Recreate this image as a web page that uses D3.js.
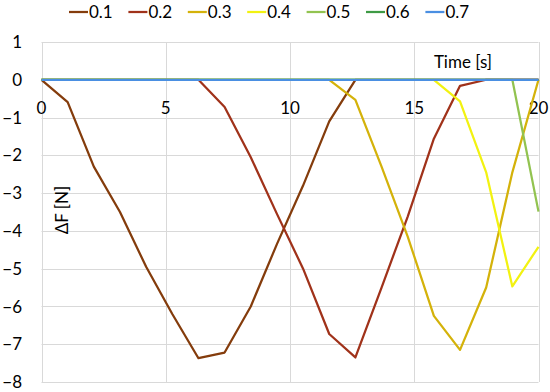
<!DOCTYPE html>
<html><head><meta charset="utf-8">
<script src="https://cdn.jsdelivr.net/npm/d3@7"></script>
<style>body{margin:0;background:#fff}svg{display:block}text{font-family:Lato,"Liberation Sans",sans-serif;fill:#000}</style>
</head><body><svg id="c" width="550" height="392"></svg>
<script>
const seriesNames = ["0.1","0.2","0.3","0.4","0.5","0.6","0.7"];
const seriesColors = ["#843C0C","#A0321A","#D4B20A","#F2F211","#92C350","#3E9A45","#4A8FE2"];
// sample times: 20 samples from 0 to 20 s
const times = d3.range(20).map(i => i * 20 / 19);
const s01 = [0,-0.59,-2.3,-3.5,-4.95,-6.2,-7.37,-7.22,-6.0,-4.35,-2.8,-1.1,0,0,0,0,0,0,0,0];
const s02 = [0,0,0,0,0,0,0,-0.72,-2.05,-3.55,-5.0,-6.73,-7.35,-5.5,-3.62,-1.56,-0.16,0,0,0];
const s03 = [0,0,0,0,0,0,0,0,0,0,0,0,-0.53,-2.3,-4.15,-6.25,-7.15,-5.5,-2.45,0];
const s04 = [0,0,0,0,0,0,0,0,0,0,0,0,0,0,0,0,-0.57,-2.45,-5.47,-4.42];
const s05 = [0,0,0,0,0,0,0,0,0,0,0,0,0,0,0,0,0,0,0,-3.49];
const s06 = [0,0,0,0,0,0,0,0,0,0,0,0,0,0,0,0,0,0,0,0];
const s07 = [0,0,0,0,0,0,0,0,0,0,0,0,0,0,0,0,0,0,0,0];
const allSeries = [s01,s02,s03,s04,s05,s06,s07];
const xTicks = [0,5,10,15,20];
const yTicks = [1,0,-1,-2,-3,-4,-5,-6,-7,-8];

const svg = d3.select("#c");
const x = d3.scaleLinear().domain([0,20]).range([41.5,538.5]);
const y = d3.scaleLinear().domain([-8,1]).range([382,42]);

// gridlines
const g = svg.append("g");
g.selectAll("line.h").data(yTicks).join("line")
  .attr("x1",x(0)).attr("x2",x(20)).attr("y1",d=>Math.round(y(d))+0.5).attr("y2",d=>Math.round(y(d))+0.5)
  .attr("stroke","#d9d9d9").attr("stroke-width",1);
g.selectAll("line.v").data(xTicks).join("line")
  .attr("y1",y(1)).attr("y2",y(-8)).attr("x1",d=>Math.round(x(d))+0.5).attr("x2",d=>Math.round(x(d))+0.5)
  .attr("stroke","#d9d9d9").attr("stroke-width",1);

// y tick labels
svg.append("g").selectAll("text").data(yTicks).join("text")
  .attr("x",22).attr("y",d=>y(d)).attr("dy","0.36em").attr("text-anchor","end")
  .attr("font-size",17).text(d=>d<0?"\u2212"+Math.abs(d):d);
// x tick labels (below zero line)
svg.append("g").selectAll("text").data(xTicks).join("text")
  .attr("x",d=>x(d)).attr("y",113.5).attr("text-anchor","middle")
  .attr("font-size",17).text(d=>d);

// lines
const line = d3.line().x((d,i)=>x(times[i])).y(d=>y(d));
svg.append("g").selectAll("path").data(allSeries).join("path")
  .attr("d",d=>line(d)).attr("fill","none")
  .attr("stroke",(d,i)=>seriesColors[i]).attr("stroke-width",2.25).attr("stroke-linejoin","round");

// axis titles
svg.append("text").attr("x",492).attr("y",68).attr("text-anchor","end").attr("font-size",17).text("Time [s]");
svg.append("text").attr("transform","translate(68,210) rotate(-90)").attr("text-anchor","middle")
  .attr("font-size",17).text("\u0394F [N]");

// legend
const lg = svg.append("g").selectAll("g").data(seriesNames).join("g")
  .attr("transform",(d,i)=>`translate(${69+i*59.4},0)`);
lg.append("line").attr("x1",0).attr("x2",19).attr("y1",12).attr("y2",12)
  .attr("stroke",(d,i)=>seriesColors[i]).attr("stroke-width",2.25);
lg.append("text").attr("x",20).attr("y",18).attr("font-size",17).text(d=>d);
</script></body></html>
